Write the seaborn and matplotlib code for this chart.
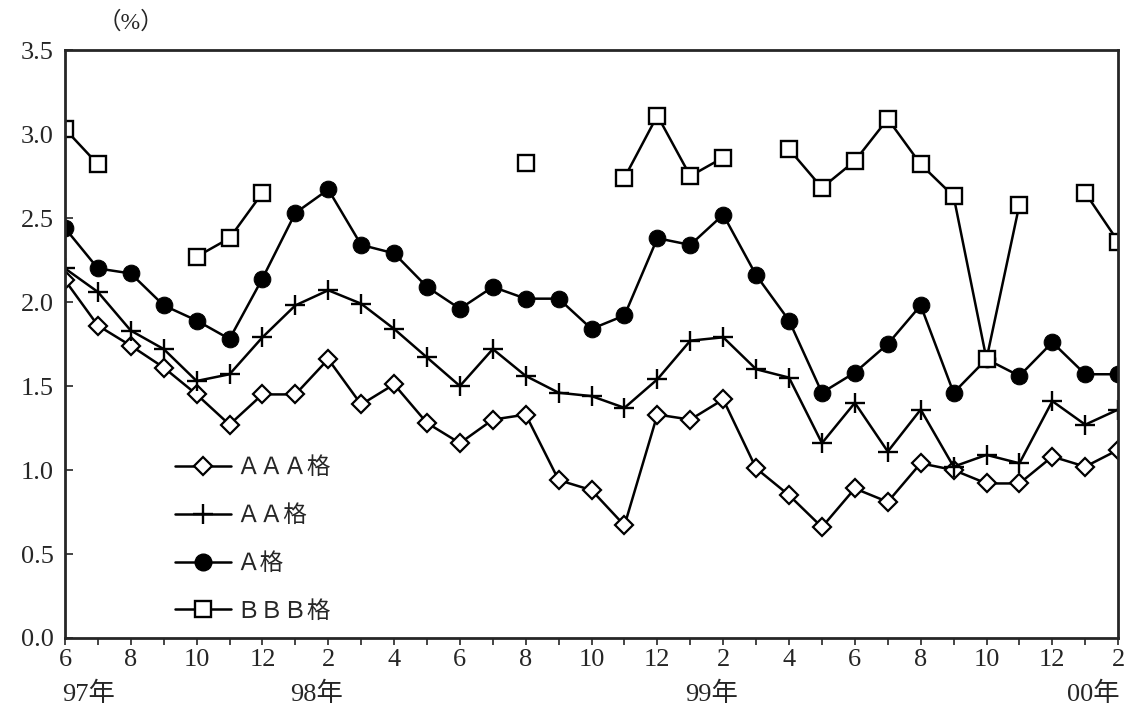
import numpy as np
import pandas as pd
import seaborn as sns
import matplotlib.pyplot as plt
from matplotlib.lines import Line2D

# 月次データ 97年6月 ～ 00年2月
months = [6, 7, 8, 9, 10, 11, 12,
          1, 2, 3, 4, 5, 6, 7, 8, 9, 10, 11, 12,
          1, 2, 3, 4, 5, 6, 7, 8, 9, 10, 11, 12,
          1, 2]
year_marks = {0: '97年', 8: '98年', 20: '99年', 32: '00年'}

aaa = [2.13, 1.86, 1.74, 1.61, 1.45, 1.27, 1.45, 1.45, 1.66, 1.39, 1.51,
       1.28, 1.16, 1.30, 1.33, 0.94, 0.88, 0.67, 1.33, 1.30, 1.42,
       1.01, 0.85, 0.66, 0.89, 0.81, 1.04, 1.00, 0.92, 0.92, 1.08, 1.02, 1.12]
aa = [2.20, 2.06, 1.83, 1.72, 1.53, 1.57, 1.79, 1.98, 2.07, 1.99, 1.84,
      1.67, 1.50, 1.72, 1.56, 1.46, 1.44, 1.37, 1.54, 1.77, 1.79,
      1.60, 1.55, 1.16, 1.40, 1.11, 1.36, 1.02, 1.09, 1.04, 1.41, 1.27, 1.36]
a = [2.44, 2.20, 2.17, 1.98, 1.89, 1.78, 2.14, 2.53, 2.67, 2.34, 2.29,
     2.09, 1.96, 2.09, 2.02, 2.02, 1.84, 1.92, 2.38, 2.34, 2.52,
     2.16, 1.89, 1.46, 1.58, 1.75, 1.98, 1.46, 1.66, 1.56, 1.76, 1.57, 1.57]
bbb = [3.03, 2.82, np.nan, np.nan, 2.27, 2.38, 2.65, np.nan, np.nan, np.nan, np.nan,
       np.nan, np.nan, np.nan, 2.83, np.nan, np.nan, 2.74, 3.11, 2.75, 2.86,
       np.nan, 2.91, 2.68, 2.84, 3.09, 2.82, 2.63, 1.66, 2.58, np.nan, 2.65, 2.36]

labels = ['ＡＡＡ格', 'ＡＡ格', 'Ａ格', 'ＢＢＢ格']

sns.set_style('ticks')
plt.rcParams['font.family'] = ['Liberation Serif', 'Noto Sans CJK JP', 'DejaVu Sans']

fig = plt.figure(figsize=(11.24, 7.15), dpi=100)
ax = fig.add_axes([0.0578, 0.1077, 0.937, 0.8223])

x = np.arange(len(months))


def segments(vals):
    # 欠損値で線を切るためのセグメント番号
    seg, cur, prev_nan = [], 0, False
    for v in vals:
        if np.isnan(v):
            prev_nan = True
            seg.append(-1)
        else:
            if prev_nan:
                cur += 1
            prev_nan = False
            seg.append(cur)
    return seg


styles = [
    dict(marker='D', markersize=9, markerfacecolor='white', markeredgecolor='black', markeredgewidth=1.6),
    dict(marker='+', markersize=15, markeredgecolor='black', markeredgewidth=1.7),
    dict(marker='o', markersize=12, markerfacecolor='black', markeredgecolor='black'),
    dict(marker='s', markersize=11, markerfacecolor='white', markeredgecolor='black', markeredgewidth=1.7),
]

for vals, st in zip([aaa, aa, a, bbb], styles):
    df = pd.DataFrame({'x': x, 'y': vals, 'seg': segments(vals)})
    df = df[df['seg'] >= 0]
    sns.lineplot(data=df, x='x', y='y', units='seg', estimator=None, ax=ax,
                 color='black', linewidth=1.8, **st)

ax.set_xlim(0, len(months) - 1)
ax.set_ylim(0, 3.5)
ax.set_yticks(np.arange(0, 3.51, 0.5))
ax.set_yticklabels([f'{v:.1f}' for v in np.arange(0, 3.51, 0.5)], fontsize=19)
ax.set_xticks(x[::2])
ax.set_xticklabels([str(m) for m in months[::2]], fontsize=19)
ax.set_xticks(x[1::2], minor=True)
ax.tick_params(axis='x', which='both', direction='out', length=5, width=1.2, pad=3)
ax.tick_params(axis='y', direction='in', length=6, width=1.2, pad=8)
ax.set_xlabel('')
ax.set_ylabel('')
for s in ax.spines.values():
    s.set_linewidth(2)
    s.set_visible(True)

# 年ラベル
for i, yr in year_marks.items():
    ha = 'left' if i == 0 else ('right' if i == len(months) - 1 else 'center')
    xo = -0.1 if i == 0 else (0.05 if ha == 'right' else -0.35)
    ax.text(i + xo, -0.26, yr, ha=ha, va='top', fontsize=19,
            transform=ax.transData, clip_on=False)

ax.text(2.0, 3.6, '（%）', ha='center', va='bottom', fontsize=17, clip_on=False)

handles = [Line2D([], [], color='black', linewidth=1.8, **st) for st in styles]
ax.legend(handles, labels, loc='lower left', bbox_to_anchor=(0.084, -0.01),
          frameon=False, handlelength=2.4, labelspacing=1.05,
          handletextpad=0.2, prop={'family': ['Noto Sans CJK JP'], 'size': 17})

fig.savefig('out.png', dpi=100)
